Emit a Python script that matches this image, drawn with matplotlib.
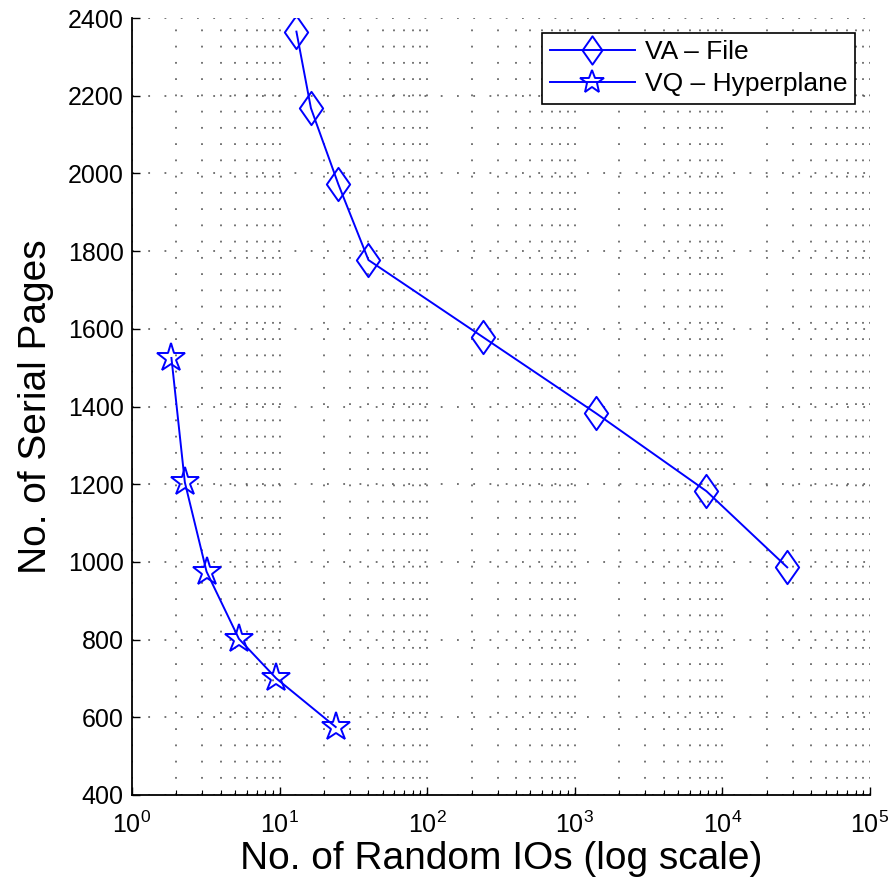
import numpy as np
import matplotlib
matplotlib.use("Agg")
import matplotlib.pyplot as plt
from matplotlib.ticker import LogLocator
from matplotlib.path import Path

plt.rcParams['font.family'] = ['Liberation Sans', 'DejaVu Sans']
plt.rcParams['mathtext.fontset'] = 'custom'
plt.rcParams['mathtext.rm'] = 'Liberation Sans'
plt.rcParams['mathtext.it'] = 'Liberation Sans'
plt.rcParams['mathtext.default'] = 'regular'

# ---------------- DADOS ----------------
va_ios = [13.0, 16.3, 25.0, 40.0, 240.0, 1400.0, 7800.0, 27500.0]
va_pages = [2365, 2168, 1972, 1777, 1578, 1382, 1182, 986]

vq_ios = [1.85, 2.28, 3.2, 5.3, 9.5, 24.0]
vq_pages = [1525, 1205, 975, 802, 700, 575]

x_ticks = [1e0, 1e1, 1e2, 1e3, 1e4, 1e5]
y_ticks = [400, 600, 800, 1000, 1200, 1400, 1600, 1800, 2000, 2200, 2400]

fig = plt.figure(figsize=(8.92, 8.83), dpi=100)
ax = fig.add_axes([132/892, 1 - 795/883, (870-132)/892, (795-18)/883])

azul = (0, 0, 1)

# losango um pouco mais alto que largo (estilo MATLAB no print)
losango = Path([(0, 1), (0.7, 0), (0, -1), (-0.7, 0), (0, 1)],
               [Path.MOVETO, Path.LINETO, Path.LINETO, Path.LINETO, Path.CLOSEPOLY])

ax.plot(va_ios, va_pages, color=azul, linewidth=1.4, marker=losango,
        markersize=24, markerfacecolor='none', markeredgecolor=azul,
        markeredgewidth=1.4, label='VA \u2013 File', zorder=3)
ax.plot(vq_ios, vq_pages, color=azul, linewidth=1.4, marker='*',
        markersize=21, markerfacecolor='none', markeredgecolor=azul,
        markeredgewidth=1.4, label='VQ \u2013 Hyperplane', zorder=3)

ax.set_xscale('log')
ax.set_xlim(1, 1e5)
ax.set_ylim(400, 2400)
ax.set_xticks(x_ticks)
ax.set_yticks(y_ticks)
ax.xaxis.set_minor_locator(LogLocator(base=10, subs=np.arange(2, 10)))

ax.spines['top'].set_visible(False)
ax.spines['right'].set_visible(False)
ax.spines['left'].set_linewidth(1.3)
ax.spines['bottom'].set_linewidth(1.3)

ax.tick_params(which='both', direction='in', labelsize=18, colors='black')
ax.tick_params(which='major', length=6, width=1)
ax.tick_params(which='minor', length=3.5, width=0.8)
ax.tick_params(axis='x', pad=12)
ax.tick_params(axis='y', pad=6)

# grade pontilhada estilo MATLAB
ax.grid(True, axis='x', which='both', linestyle=(0, (1, 8)), linewidth=1.3,
        color='#444444', alpha=0.8)
ax.grid(True, axis='y', which='major', linestyle=(0, (1, 8)), linewidth=1.3,
        color='#444444', alpha=0.8)
ax.set_axisbelow(True)

ax.set_xlabel('No. of Random IOs (log scale)', fontsize=28, labelpad=2)
ax.set_ylabel('No. of Serial Pages', fontsize=28, labelpad=10)

leg = ax.legend(loc='upper right', fontsize=19, frameon=True, fancybox=False,
                edgecolor='black', framealpha=1, borderpad=0.3,
                handlelength=3.2, handletextpad=0.4, markerscale=0.85,
                labelspacing=0.3, borderaxespad=0.55)
leg.get_frame().set_linewidth(1.2)

fig.savefig('out.png', dpi=100)
plt.close(fig)
